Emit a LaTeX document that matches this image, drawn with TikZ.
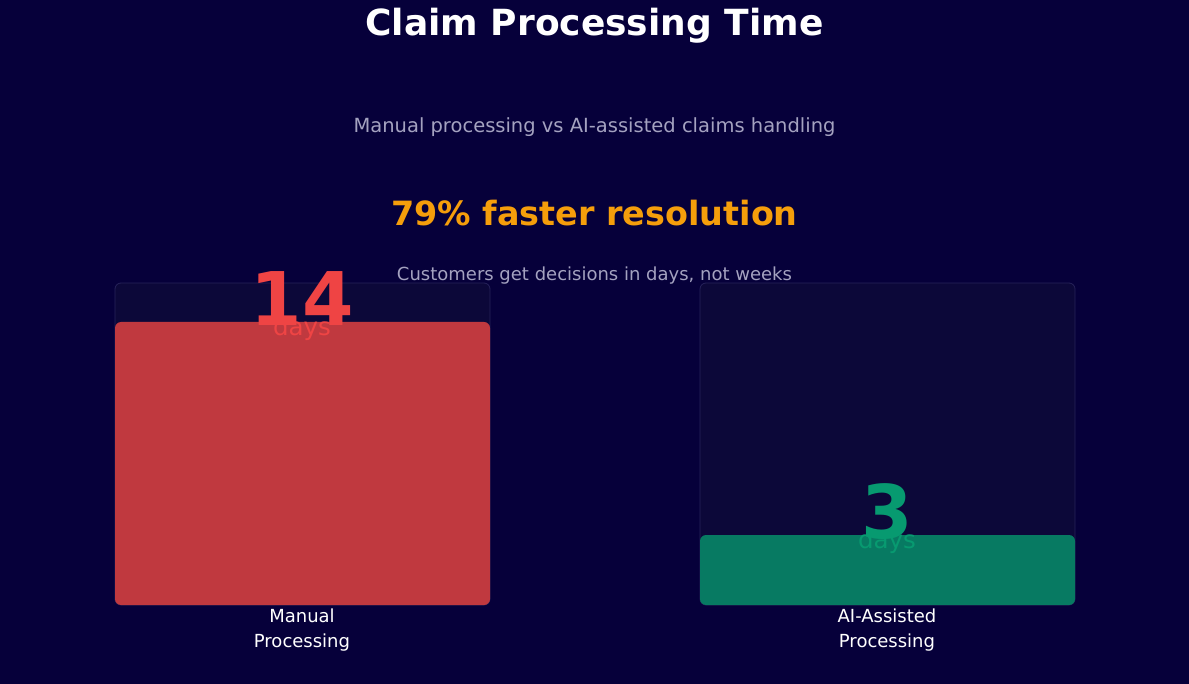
\documentclass[tikz,border=0pt]{standalone}
\usepackage{fontspec}
\setmainfont{DejaVu Sans}
\definecolor{bg}{HTML}{06003A}
\definecolor{panel}{HTML}{0C0839}
\definecolor{pborder}{HTML}{26225A}
\definecolor{redbar}{HTML}{C0393F}
\definecolor{redtxt}{HTML}{EF4444}
\definecolor{greenbar}{HTML}{077A62}
\definecolor{greentxt}{HTML}{079A70}
\definecolor{graytxt}{HTML}{A4A2C0}
\definecolor{orange}{HTML}{F59E0B}
\tikzset{
 panelbox/.style={fill=panel,draw=pborder,line width=0.8pt,rounded corners=6pt},
 barbox/.style={rounded corners=6pt},
 lab/.style={text=white,font=\fontsize{18}{25}\selectfont,align=center},
}
\begin{document}
\begin{tikzpicture}[x=1pt,y=-1pt]
\useasboundingbox[fill=bg] (0,0) rectangle (1189,684);
\node[text=white,font=\bfseries\fontsize{36}{40}\selectfont] (title) at (594.5,26) {Claim Processing Time};
\node[text=graytxt,font=\fontsize{19.5}{23}\selectfont] (sub) at (594.5,127) {Manual processing vs AI-assisted claims handling};
\node[text=orange,font=\bfseries\fontsize{33.4}{38}\selectfont] (hl) at (594.5,213) {79\% faster resolution};
\draw[panelbox] (115,283) rectangle (490,605);
\draw[panelbox] (700,283) rectangle (1075,605);
\fill[redbar,barbox] (115,322) rectangle (490,605);
\fill[greenbar,barbox] (700,535) rectangle (1075,605);
\node[text=graytxt,font=\fontsize{18}{22}\selectfont] (cap) at (594.5,276) {Customers get decisions in days, not weeks};
\node[text=redtxt,font=\bfseries\fontsize{74}{80}\selectfont] (n1) at (302,299) {14};
\node[text=redtxt,font=\fontsize{24.5}{28}\selectfont] (d1) at (302,329) {days};
\node[text=greentxt,font=\bfseries\fontsize{74}{80}\selectfont] (n2) at (887,512) {3};
\node[text=greentxt,font=\fontsize{24.5}{28}\selectfont] (d2) at (887,542) {days};
\node[lab] (l1) at (302,630) {Manual\\Processing};
\node[lab] (l2) at (887,630) {AI-Assisted\\Processing};
\end{tikzpicture}
\end{document}
